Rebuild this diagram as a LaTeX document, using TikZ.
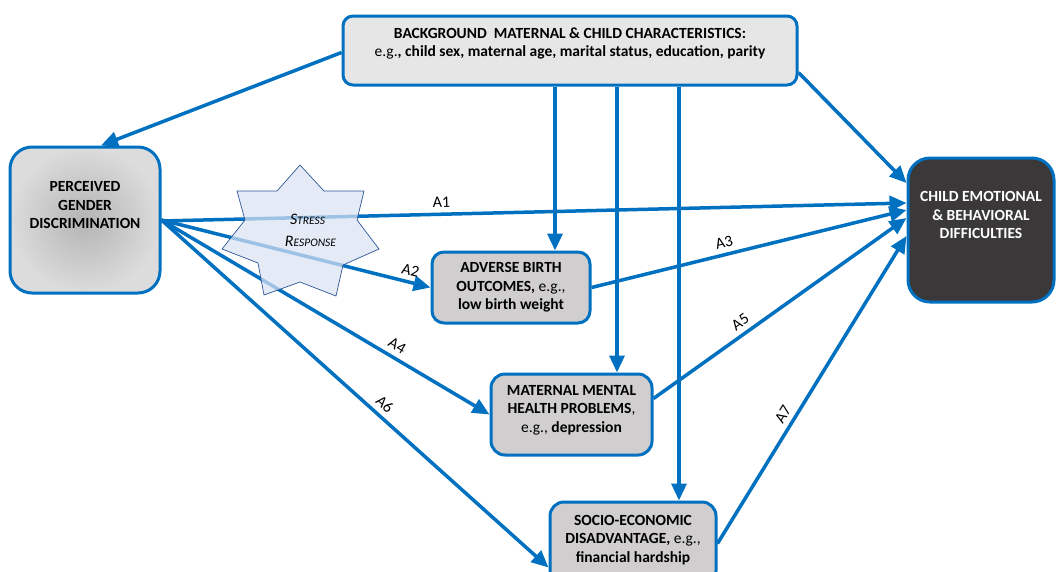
\documentclass[tikz,border=0pt]{standalone}
\usepackage{fontspec}
\setmainfont{Carlito}
\usetikzlibrary{arrows.meta,calc}
\definecolor{bblue}{HTML}{0070C0}
\definecolor{boxgray}{HTML}{D0CECE}
\definecolor{bggray}{HTML}{E7E6E6}
\definecolor{darkbox}{HTML}{3A3838}
\definecolor{starfill}{HTML}{DAE3F3}
\definecolor{starline}{HTML}{2F5597}
\definecolor{percin}{HTML}{B4B4B4}
\definecolor{percout}{HTML}{DCDCDC}
\begin{document}
\begin{tikzpicture}[x=1pt,y=-1pt,
  box/.style={draw=bblue, line width=3pt},
  arr/.style={draw=bblue, line width=3.5pt, -{Triangle[length=17pt,width=15pt]}},
  lbl/.style={font=\fontsize{16}{19}\selectfont, sloped, above, text=black, inner sep=5pt},
  txt/.style={align=center, font=\fontsize{15.5}{18.5}\selectfont, text=black}]
\clip (0,0) rectangle (1056,571);
% boxes
\node[box, fill=bggray, rounded corners=10pt, minimum width=454pt, minimum height=69pt] (bg) at (570,50.5) {};
\node[txt] (bgt) at (570,43.5) {\textbf{BACKGROUND\ \ MATERNAL \& CHILD CHARACTERISTICS:}\\ e.g.\textbf{, child sex, maternal age, marital status, education, parity}};
\node[box, rounded corners=22pt, minimum width=150pt, minimum height=146pt, inner color=percin, outer color=percout] (perc) at (85,220) {};
\node[txt] (perct) at (85,205) {\textbf{PERCEIVED}\\\textbf{GENDER}\\\textbf{DISCRIMINATION}};
\node[box, fill=darkbox, rounded corners=22pt, minimum width=146pt, minimum height=144pt] (child) at (981,230) {};
\node[txt, text=white] (childt) at (981,215) {\textbf{CHILD EMOTIONAL}\\\textbf{\& BEHAVIORAL}\\\textbf{DIFFICULTIES}};
\node[box, txt, fill=boxgray, rounded corners=12pt, minimum width=158pt, minimum height=71pt] (adv) at (511,287.5) {\textbf{ADVERSE BIRTH}\\\textbf{OUTCOMES,} e.g.,\\\textbf{low birth weight}};
\node[box, fill=boxgray, rounded corners=14pt, minimum width=161pt, minimum height=81pt] (mat) at (571.5,414.5) {};
\node[txt] (matt) at (571.5,410) {\textbf{MATERNAL MENTAL}\\\textbf{HEALTH PROBLEMS},\\e.g., \textbf{depression}};
\node[box, fill=boxgray, rounded corners=14pt, minimum width=166pt, minimum height=83pt] (soc) at (633,543.5) {};
\node[txt] (soct) at (633,540) {\textbf{SOCIO-ECONOMIC}\\\textbf{DISADVANTAGE,} e.g.,\\\textbf{financial hardship}};
% arrows from background
\draw[arr] ([yshift=-2pt]bg.west) -- ([xshift=16pt]perc.north);
\draw[arr] ([yshift=-22pt]bg.east) -- ([yshift=47pt]child.west);
\coordinate (b1) at ([xshift=-15pt]bg.south);
\coordinate (b2) at ([xshift=47pt]bg.south);
\coordinate (b3) at ([xshift=109pt]bg.south);
\draw[arr] (b1) -- (b1 |- adv.north);
\draw[arr] (b2) -- (b2 |- mat.north);
\draw[arr] (b3) -- (b3 |- soc.north);
% arrows from perceived discrimination
\draw[arr] ([yshift=-1pt]perc.east) -- ([yshift=27pt]child.west) node[lbl, pos=0.376] {A1};
\draw[arr] (perc.east) -- (adv.west) node[lbl, pos=0.915] {A2};
\draw[arr] (perc.east) -- (mat.west) node[lbl, pos=0.70] {A4};
\draw[arr] (perc.east) -- ([yshift=-24pt]soc.west) node[lbl, pos=0.556] {A6};
% arrows to child outcome
\draw[arr] (adv.east) -- ([yshift=20pt]child.west) node[lbl, pos=0.43] {A3};
\draw[arr] ([yshift=16pt]mat.east) -- ([yshift=12pt]child.west) node[lbl, pos=0.37] {A5};
\draw[arr] (soc.east) -- ([yshift=-6pt]child.west) node[lbl, pos=0.40] {A7};
% stress response star
\draw[draw=starline, fill=starfill, fill opacity=0.72, line width=0.7pt]
  (300,165) -- (324,191) -- (364,191) -- (357,220) -- (379,249) -- (343,265) -- (336,296)
  -- (300,282) -- (264,295) -- (258,263) -- (222,249) -- (245,220) -- (237,191) -- (277,191) -- cycle;
\node[align=center, font=\fontsize{16}{22}\selectfont\itshape, text=black] (stress) at (307.5,230)
  {S{\fontsize{11.5}{12}\selectfont TRESS}\\\hspace*{6pt}R{\fontsize{11.5}{12}\selectfont ESPONSE}};
\end{tikzpicture}
\end{document}
